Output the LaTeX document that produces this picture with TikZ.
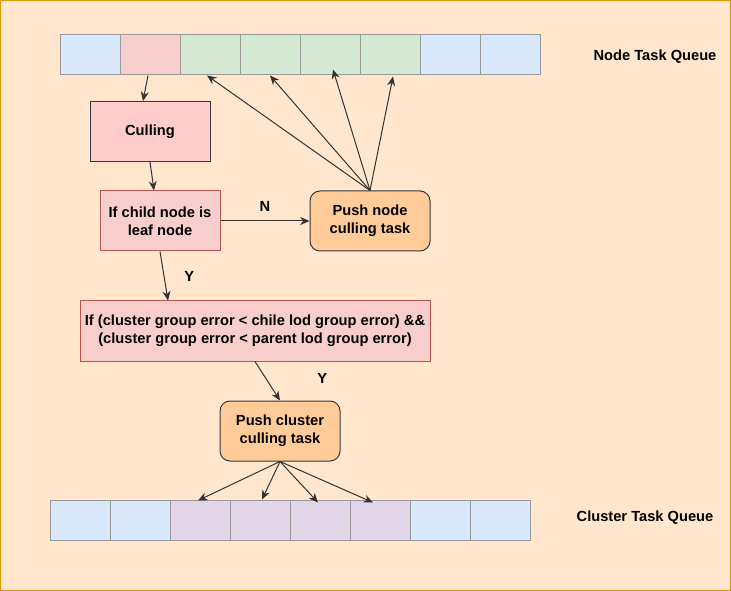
\documentclass[tikz,border=0pt]{standalone}
\usepackage{fontspec}
\setmainfont{Liberation Sans}
\usetikzlibrary{arrows.meta}
\usetikzlibrary{positioning}

\definecolor{pagebg}{HTML}{FFE6CC}
\definecolor{pageline}{HTML}{D79B00}
\definecolor{cellblue}{HTML}{DAE8FC}
\definecolor{cellred}{HTML}{F8CECC}
\definecolor{cellgreen}{HTML}{D5E8D4}
\definecolor{cellpurple}{HTML}{E1D5E7}
\definecolor{cellline}{HTML}{999999}
\definecolor{boxpink}{HTML}{FFCCCC}
\definecolor{boxred}{HTML}{B85450}
\definecolor{boxorange}{HTML}{FFCC99}
\definecolor{boxline}{HTML}{36393D}
\definecolor{arrowline}{HTML}{333333}

\tikzset{
  qcell/.style={draw=cellline, line width=0.75pt, minimum width=45pt, minimum height=30pt, inner sep=0pt},
  flowbox/.style={draw=boxline, fill=boxpink, line width=0.75pt, minimum width=90pt, minimum height=45pt, align=center, inner sep=0pt, font=\fontsize{11}{13.5}\selectfont\bfseries},
  testbox/.style={flowbox, draw=boxred, fill=cellred},
  pushbox/.style={flowbox, fill=boxorange, rounded corners=7.5pt},
  flowarrow/.style={draw=arrowline, line width=0.75pt, -{Stealth[length=7pt,width=6pt]}},
  flowlabel/.style={font=\fontsize{11}{13.5}\selectfont\bfseries, inner sep=0.75pt}
}

\begin{document}
\begin{tikzpicture}[x=0.75pt,y=0.75pt,yscale=-1,xscale=1]
%Background
\draw [draw=pageline, fill=pagebg, line width=0.75pt] (0.5,0.5) rectangle (730.5,590.5);
\useasboundingbox (0,0) rectangle (731,591);

%Node task queue
\foreach \i/\c in {1/cellblue,2/cellred,3/cellgreen,4/cellgreen,5/cellgreen,6/cellgreen,7/cellblue,8/cellblue}
  \node [qcell, fill=\c] (nq\i) at ({30+60*\i},55) {};
%Cluster task queue
\foreach \i/\c in {1/cellblue,2/cellblue,3/cellpurple,4/cellpurple,5/cellpurple,6/cellpurple,7/cellblue,8/cellblue}
  \node [qcell, fill=\c] (cq\i) at ({20+60*\i},520) {};

% Text Node
\node [flowlabel] (nqlabel) at (655,57) {Node Task Queue};
% Text Node
\node [flowlabel] (cqlabel) at (645,518) {Cluster Task Queue};

%Flow boxes
\node [flowbox] (cull) at (150,131.5) {Culling};
\node [testbox] (leaf) at (160,221) {If child node is\\leaf node};
\node [pushbox] (pushnode) at (370,221) {Push node\\culling task};
\node [testbox, minimum width=262.5pt] (lod) at (255,331) {If (cluster group error {<} chile lod group error) \&\&\\(cluster group error {<} parent lod group error)};
\node [pushbox] (pushcluster) at (280,431) {Push cluster\\culling task};

%Connectors
\draw [flowarrow] ([xshift=-1.5pt]nq2.south) -- ([xshift=-5.25pt]cull.north);
\draw [flowarrow] (cull.south) -- ([xshift=-4.5pt]leaf.north);
\draw [flowarrow] (leaf.east) -- node [flowlabel, yshift=11pt] {N} (pushnode.west);
\draw [flowarrow] (leaf.south) -- node [flowlabel, xshift=19pt] {Y} ([xshift=-65.25pt]lod.north);
\draw [flowarrow] (lod.south) -- node [flowlabel, xshift=41pt, yshift=2pt] {Y} (pushcluster.north);

\draw [flowarrow] (pushnode.north) -- ([xshift=-2.25pt]nq3.south);
\draw [flowarrow] (pushnode.north) -- (nq4.south);
\draw [flowarrow] (pushnode.north) -- ([xshift=2.25pt, yshift=-4.5pt]nq5.south);
\draw [flowarrow] (pushnode.north) -- ([xshift=2.25pt, yshift=0.75pt]nq6.south);

\draw [flowarrow] (pushcluster.south) -- ([xshift=-1.5pt, yshift=0.75pt]cq3.north);
\draw [flowarrow] (pushcluster.south) -- ([xshift=1.5pt]cq4.north);
\draw [flowarrow] (pushcluster.south) -- ([xshift=-1.5pt, yshift=2.25pt]cq5.north);
\draw [flowarrow] (pushcluster.south) -- ([xshift=-5.25pt, yshift=2.25pt]cq6.north);

\end{tikzpicture}
\end{document}
